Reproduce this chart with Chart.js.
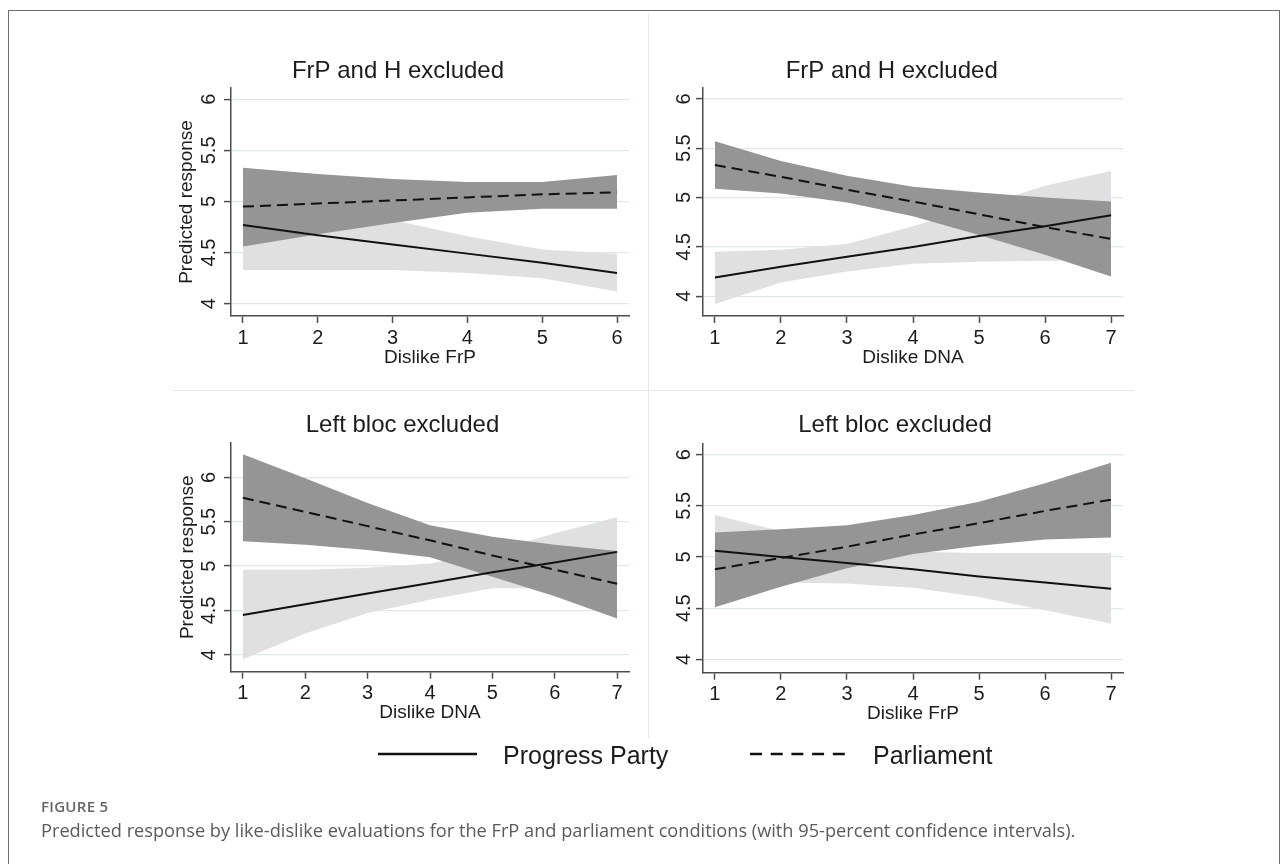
<!DOCTYPE html>
<html>
<head>
<meta charset="utf-8">
<script src="https://cdn.jsdelivr.net/npm/chart.js@4.4.0/dist/chart.umd.min.js"></script>
<style>
  html, body { margin: 0; padding: 0; background: #fff; }
  body { width: 1288px; height: 864px; position: relative; overflow: hidden; }
  .frame { position: absolute; left: 8px; top: 10px; width: 1270px; height: 880px; border: 1px solid #6e6e6e; }
  .sep-v { position: absolute; left: 648px; top: 14px; width: 1px; height: 724px; background: #e2e8eb; }
  .sep-h { position: absolute; left: 172px; top: 390px; width: 962px; height: 1px; background: #e2e8eb; }
  canvas { position: absolute; }
  #bottom { position: absolute; left: 0; top: 730px; }
</style>
</head>
<body>
<div class="frame"></div>
<div class="sep-v"></div>
<div class="sep-h"></div>
<canvas id="p1"></canvas>
<canvas id="p2"></canvas>
<canvas id="p3"></canvas>
<canvas id="p4"></canvas>
<svg id="bottom" width="1288" height="134"></svg>
<script>
// ─── Data ────────────────────────────────────────────────────────────────────
const seriesNames = ['Progress Party', 'Parliament'];
const yTicks = [4, 4.5, 5, 5.5, 6];

// FrP and H excluded / Dislike FrP
const x1 = [1, 2, 3, 4, 5, 6];
const pp1 = [4.77, 4.67, 4.58, 4.49, 4.40, 4.30];
const pp1Lo = [4.33, 4.33, 4.33, 4.30, 4.25, 4.12];
const pp1Hi = [5.20, 5.01, 4.82, 4.66, 4.53, 4.49];
const parl1 = [4.95, 4.98, 5.01, 5.04, 5.07, 5.09];
const parl1Lo = [4.56, 4.68, 4.79, 4.89, 4.93, 4.93];
const parl1Hi = [5.33, 5.27, 5.22, 5.19, 5.19, 5.26];

// FrP and H excluded / Dislike DNA
const x2 = [1, 2, 3, 4, 5, 6, 7];
const pp2 = [4.19, 4.30, 4.40, 4.50, 4.61, 4.71, 4.82];
const pp2Lo = [3.92, 4.14, 4.25, 4.33, 4.35, 4.36, 4.36];
const pp2Hi = [4.45, 4.47, 4.53, 4.71, 4.91, 5.12, 5.27];
const parl2 = [5.33, 5.21, 5.08, 4.96, 4.83, 4.70, 4.58];
const parl2Lo = [5.09, 5.04, 4.95, 4.81, 4.62, 4.42, 4.20];
const parl2Hi = [5.57, 5.37, 5.22, 5.11, 5.05, 5.00, 4.96];

// Left bloc excluded / Dislike DNA
const x3 = [1, 2, 3, 4, 5, 6, 7];
const pp3 = [4.45, 4.57, 4.69, 4.81, 4.93, 5.04, 5.16];
const pp3Lo = [3.95, 4.24, 4.47, 4.62, 4.75, 4.75, 4.75];
const pp3Hi = [4.96, 4.96, 4.98, 5.03, 5.16, 5.37, 5.55];
const parl3 = [5.77, 5.61, 5.45, 5.29, 5.12, 4.96, 4.80];
const parl3Lo = [5.28, 5.24, 5.18, 5.10, 4.88, 4.66, 4.41];
const parl3Hi = [6.26, 5.99, 5.71, 5.46, 5.33, 5.24, 5.17];

// Left bloc excluded / Dislike FrP
const x4 = [1, 2, 3, 4, 5, 6, 7];
const pp4 = [5.06, 5.00, 4.94, 4.88, 4.81, 4.75, 4.69];
const pp4Lo = [4.71, 4.75, 4.74, 4.70, 4.61, 4.48, 4.35];
const pp4Hi = [5.41, 5.25, 5.12, 5.05, 5.04, 5.04, 5.04];
const parl4 = [4.88, 4.99, 5.10, 5.22, 5.33, 5.45, 5.56];
const parl4Lo = [4.51, 4.71, 4.89, 5.03, 5.11, 5.17, 5.19];
const parl4Hi = [5.24, 5.27, 5.31, 5.41, 5.54, 5.72, 5.92];

// ─── Style ───────────────────────────────────────────────────────────────────
const FONT = "'Liberation Sans', Arial, sans-serif";
const AXIS = '#4d4d4d';
const GRID = '#dfe7eb';
const LIGHT = '#e0e0e0';
const DARK = '#959595';
const LINE = '#111111';
const DASH = [11, 6];

function pts(xs, ys) {
  return xs.map((x, i) => ({ x, y: ys[i] }));
}

function buildPanel(p) {
  const canvas = document.getElementById(p.id);
  const g = p.geo;
  canvas.width = g.w;
  canvas.height = g.h;
  canvas.style.left = g.left + 'px';
  canvas.style.top = g.top + 'px';

  const band = (ys, color, fill, order) => ({
    data: pts(p.x, ys), borderWidth: 0, pointRadius: 0,
    backgroundColor: color, fill, order,
  });

  return new Chart(canvas.getContext('2d'), {
    type: 'line',
    data: {
      datasets: [
        band(p.ppLo, LIGHT, false, 6),
        band(p.ppHi, LIGHT, '-1', 5),
        band(p.parlLo, DARK, false, 4),
        band(p.parlHi, DARK, '-1', 3),
        { label: seriesNames[0], data: pts(p.x, p.pp), borderColor: LINE, borderWidth: 2, pointRadius: 0, fill: false, order: 2 },
        { label: seriesNames[1], data: pts(p.x, p.parl), borderColor: LINE, borderWidth: 2, borderDash: DASH, pointRadius: 0, fill: false, order: 1 },
      ]
    },
    options: {
      responsive: false,
      animation: false,
      events: [],
      layout: { padding: g.pad },
      elements: { line: { tension: 0 } },
      plugins: {
        legend: { display: false },
        tooltip: { enabled: false },
        title: {
          display: true, text: p.title, color: '#1c1c1c',
          font: { family: FONT, size: 24, weight: 'normal' },
          padding: { top: 0, bottom: g.titleGap },
        },
      },
      scales: {
        x: {
          type: 'linear', min: p.xRange[0], max: p.xRange[1],
          afterBuildTicks: s => { s.ticks = p.x.map(v => ({ value: v })); },
          afterFit: s => { s.height = g.xh; },
          ticks: { color: '#1c1c1c', font: { family: FONT, size: 20 }, padding: 3, callback: v => String(v), maxRotation: 0 },
          grid: { drawOnChartArea: false, tickColor: AXIS, tickLength: 7, tickWidth: 1.5 },
          border: { color: AXIS, width: 1.5 },
          title: {
            display: true, text: p.xTitle, color: '#1c1c1c',
            font: { family: FONT, size: 19 }, padding: { top: 0, bottom: g.xTitlePad },
          },
        },
        y: {
          min: p.yRange[0], max: p.yRange[1],
          afterBuildTicks: s => { s.ticks = yTicks.map(v => ({ value: v })); },
          afterFit: s => { s.width = g.yw; },
          ticks: {
            color: '#1c1c1c', font: { family: FONT, size: 20 },
            minRotation: 90, maxRotation: 90, crossAlign: 'center',
            padding: g.yTickPad, callback: v => String(v),
          },
          grid: { color: GRID, lineWidth: 1.2, tickColor: AXIS, tickLength: 7, tickWidth: 1.5 },
          border: { color: AXIS, width: 1.5 },
          title: {
            display: !!p.yTitle, text: p.yTitle || '', color: '#1c1c1c',
            font: { family: FONT, size: 19 }, padding: { top: g.yTitlePad || 0 },
          },
        },
      },
    },
  });
}

buildPanel({
  id: 'p1', title: 'FrP and H excluded', xTitle: 'Dislike FrP', yTitle: 'Predicted response',
  x: x1, pp: pp1, ppLo: pp1Lo, ppHi: pp1Hi, parl: parl1, parlLo: parl1Lo, parlHi: parl1Hi,
  xRange: [0.84, 6.16], yRange: [3.88, 6.11],
  geo: { left: 160, top: 40, w: 480, h: 345, pad: { left: 7, right: 11, top: 16.9, bottom: 0 },
         yw: 64, xh: 69, titleGap: 2.3, yTitlePad: 8.6, yTickPad: 1.1, xTitlePad: 16.3 },
});

buildPanel({
  id: 'p2', title: 'FrP and H excluded', xTitle: 'Dislike DNA',
  x: x2, pp: pp2, ppLo: pp2Lo, ppHi: pp2Hi, parl: parl2, parlLo: parl2Lo, parlHi: parl2Hi,
  xRange: [0.82, 7.18], yRange: [3.80, 6.11],
  geo: { left: 650, top: 40, w: 490, h: 345, pad: { left: 10.4, right: 17, top: 16.9, bottom: 0 },
         yw: 42.6, xh: 69, titleGap: 2.3, yTickPad: -2.6, xTitlePad: 16.3 },
});

buildPanel({
  id: 'p3', title: 'Left bloc excluded', xTitle: 'Dislike DNA', yTitle: 'Predicted response',
  x: x3, pp: pp3, ppLo: pp3Lo, ppHi: pp3Hi, parl: parl3, parlLo: parl3Lo, parlHi: parl3Hi,
  xRange: [0.81, 7.19], yRange: [3.81, 6.39],
  geo: { left: 160, top: 395, w: 480, h: 340, pad: { left: 16, right: 11, top: 15.6, bottom: 0 },
         yw: 55, xh: 63.3, titleGap: 3.3, yTitlePad: 0, yTickPad: 1.1, xTitlePad: 10.6 },
});

buildPanel({
  id: 'p4', title: 'Left bloc excluded', xTitle: 'Dislike FrP',
  x: x4, pp: pp4, ppLo: pp4Lo, ppHi: pp4Hi, parl: parl4, parlLo: parl4Lo, parlHi: parl4Hi,
  xRange: [0.82, 7.18], yRange: [3.87, 6.11],
  geo: { left: 650, top: 395, w: 490, h: 340, pad: { left: 17, right: 17, top: 15.6, bottom: 0 },
         yw: 36, xh: 62.3, titleGap: 3.9, yTickPad: -2.6, xTitlePad: 9.6 },
});

// ─── Legend + caption ────────────────────────────────────────────────────────
const svg = document.getElementById('bottom');
const NS = 'http://www.w3.org/2000/svg';
function el(tag, attrs, text) {
  const e = document.createElementNS(NS, tag);
  for (const k in attrs) e.setAttribute(k, attrs[k]);
  if (text) e.textContent = text;
  svg.appendChild(e);
  return e;
}

const legendItems = [
  { x1: 378, x2: 477, tx: 503, dash: null },
  { x1: 750, x2: 848, tx: 873, dash: '12 8.7' },
];
legendItems.forEach((it, i) => {
  const line = el('line', { x1: it.x1, x2: it.x2, y1: 24, y2: 24, stroke: LINE, 'stroke-width': 2.5 });
  if (it.dash) line.setAttribute('stroke-dasharray', it.dash);
  el('text', { x: it.tx, y: 34, 'font-family': FONT, 'font-size': 25, fill: '#1c1c1c' }, seriesNames[i]);
});

el('text', { x: 41, y: 82, 'font-family': "'Open Sans', sans-serif", 'font-size': 15, 'font-weight': 600, fill: '#666', 'letter-spacing': 0.3 }, 'FIGURE 5');
const cap = el('text', { x: 41, y: 107, 'font-family': "'Open Sans', sans-serif", 'font-size': 16, fill: '#5a5a5a' },
  'Predicted response by like-dislike evaluations for the FrP and parliament conditions (with 95-percent confidence intervals).');
const capW = cap.getComputedTextLength();
if (capW > 0) cap.setAttribute('font-size', (16 * 1035 / capW).toFixed(2));
</script>
</body>
</html>
